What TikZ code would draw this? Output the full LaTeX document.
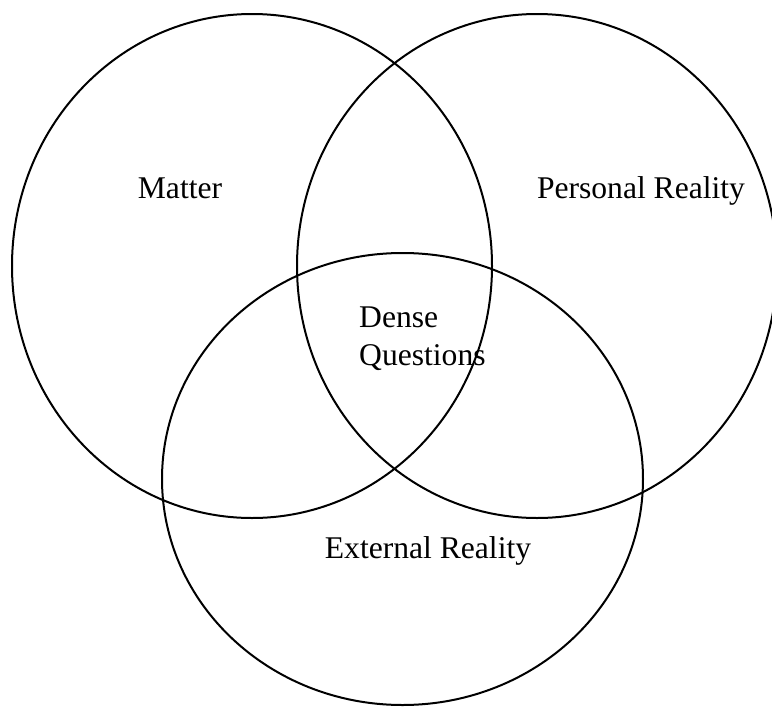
\documentclass[tikz,border=0pt]{standalone}
\usepackage{fontspec}
\setmainfont{Liberation Serif}
\begin{document}
\begin{tikzpicture}[x=1pt,y=-1pt,
  ring/.style={draw=black,line width=2pt},
  lbl/.style={font=\fontsize{31.6}{38}\selectfont,inner sep=0pt,anchor=base}]
\useasboundingbox (0,0) rectangle (772,707);
\clip (0,0) rectangle (772,707);
\fill[white] (0,0) rectangle (772,707);
\draw[ring] (252,266) ellipse [x radius=240, y radius=252];
\draw[ring] (537,266) ellipse [x radius=240, y radius=252];
\draw[ring] (402.5,479) ellipse [x radius=240.5, y radius=226];
\node[lbl] (matter) at (180,198) {Matter};
\node[lbl] (personal) at (641,198) {Personal Reality};
\node[lbl,anchor=base west] (dense) at (359,327) {Dense};
\node[lbl,anchor=base west] (questions) at (359,365) {Questions};
\node[lbl] (external) at (428,558) {External Reality};
\end{tikzpicture}
\end{document}
